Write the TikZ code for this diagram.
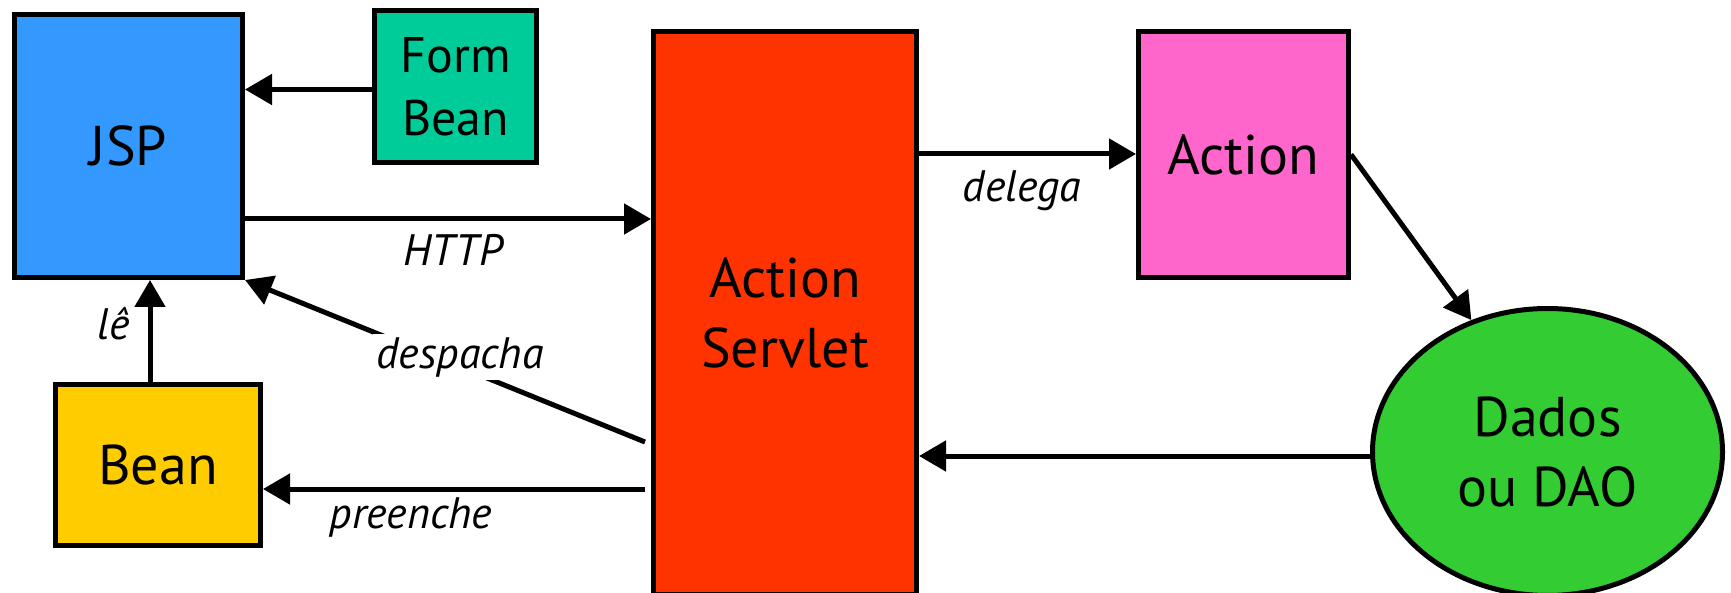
\documentclass[tikz,border=0pt]{standalone}
\usepackage{fontspec}
\setmainfont{PT Sans}
\usetikzlibrary{arrows.meta,calc,shapes.geometric}

\definecolor{jspblue}{HTML}{3399FF}
\definecolor{formgreen}{HTML}{00CC99}
\definecolor{servletred}{HTML}{FF3300}
\definecolor{actionpink}{HTML}{FF66CC}
\definecolor{beanyellow}{HTML}{FFCC00}
\definecolor{daogreen}{HTML}{33CC33}

\begin{document}
\begin{tikzpicture}[x=1pt,y=-1pt,
  box/.style={draw=black, line width=5pt, inner sep=0pt, align=center,
              font=\fontsize{56}{70}\selectfont},
  arr/.style={line width=5pt, -{Triangle[length=27pt,width=30pt]}},
  lab/.style={font=\fontsize{44}{52}\selectfont\itshape, inner sep=3pt, anchor=base}]
\useasboundingbox (0,0) rectangle (1731,593);

% components
\node[box, fill=jspblue, minimum width=228pt, minimum height=263pt] (jsp) at (128.5,146) {JSP};
\node[box, fill=formgreen, minimum width=162pt, minimum height=152pt,
      font=\fontsize{50}{63}\selectfont] (fb) at (455.5,86.5) {Form\\Bean};
\node[box, fill=servletred, minimum width=263pt, minimum height=563pt] (sv) at (785,313) {Action\\Servlet};
\node[box, fill=actionpink, minimum width=210pt, minimum height=246pt] (act) at (1243.5,154.5) {Action};
\node[box, fill=beanyellow, minimum width=205pt, minimum height=161pt] (bean) at (158,465) {Bean};
\node[box, ellipse, fill=daogreen, minimum width=350pt, minimum height=287pt] (dao) at (1547.5,452) {Dados\\ou DAO};

% connectors
\draw[arr] ($(fb.west)+(0,3)$) coordinate (f1) -- (f1 -| jsp.east);
\draw[arr] ($(jsp.east)+(0,73)$) coordinate (h1) -- (h1 -| sv.west);
\draw[arr] ($(sv.west)+(-6,129)$) coordinate (s1) -- (jsp.south east);
\draw[arr] ($(sv.west)+(-6,176)$) coordinate (p1) -- (p1 -| bean.east);
\draw[arr] ($(bean.north)+(-8,0)$) coordinate (l1) -- (l1 |- jsp.south);
\draw[arr] ($(sv.east)+(0,-159)$) coordinate (d1) -- (d1 -| act.west);
\draw[arr] (act.east) -- (dao.120);
\draw[arr] ($(dao.west)+(0,4)$) coordinate (q1) -- (q1 -| sv.east);

% connector labels
\node[lab] (lhttp) at (453,266) {HTTP};
\node[lab] (ldel) at (1022,202) {delega};
\node[lab, fill=white] (ldesp) at (460,368) {despacha};
\node[lab] (lpre) at (411,528) {preenche};
\node[lab] (lle) at (114,340) {lê};
\end{tikzpicture}
\end{document}
